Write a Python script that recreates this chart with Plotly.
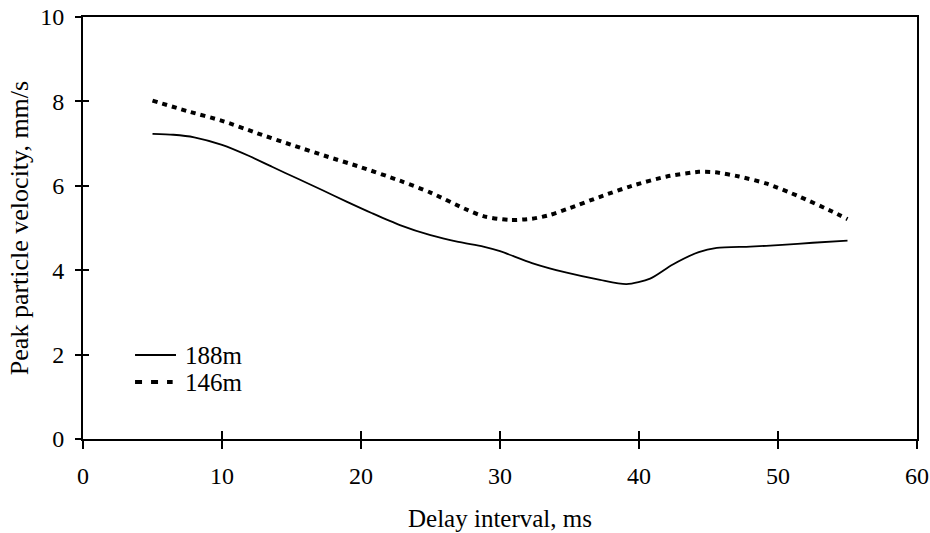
import plotly.graph_objects as go

# Data
x_188 = [5, 6.5, 8, 10, 12, 13.6, 15.5, 17.2, 19, 20.8, 22.8, 25, 27, 28.8, 30, 32.3, 34.8, 37.2, 39.1,
         40.8, 42.4, 44.3, 45.6, 48, 50.3, 52.5, 55]
y_188 = [7.23, 7.21, 7.15, 6.97, 6.7, 6.45, 6.16, 5.9, 5.62, 5.35, 5.07, 4.83, 4.67, 4.56, 4.45, 4.17, 3.94, 3.77, 3.67,
         3.8, 4.13, 4.43, 4.53, 4.56, 4.6, 4.65, 4.7]

x_146 = [5, 7.5, 10, 12.5, 15, 17.5, 20, 22.8, 25, 27.5, 28.8, 30.7, 32.3, 33.6, 35, 37.2, 39.5,
         42, 44.3, 45.5, 47.2, 49.2, 51.5, 53.9, 55]
y_146 = [8.02, 7.77, 7.54, 7.25, 6.97, 6.7, 6.44, 6.12, 5.84, 5.45, 5.28, 5.19, 5.22, 5.31, 5.47, 5.74, 6.0,
         6.22, 6.33, 6.32, 6.22, 6.05, 5.75, 5.39, 5.21]

series_names = ["188m", "146m"]
x_ticks = [0, 10, 20, 30, 40, 50, 60]
y_ticks = [0, 2, 4, 6, 8, 10]

FONT = "Liberation Serif, Times New Roman, serif"
SOLID = dict(color="black", width=1.8)
DOTTED = dict(color="black", width=4, dash="5px,5px")

fig = go.Figure()
fig.add_trace(go.Scatter(x=x_188, y=y_188, mode="lines", name=series_names[0],
                         line=dict(**SOLID, shape="spline", smoothing=0.7)))
fig.add_trace(go.Scatter(x=x_146, y=y_146, mode="lines", name=series_names[1],
                         line=dict(**DOTTED, shape="spline", smoothing=0.7)))
# helper trace so the overlay axes (inner half of the crossing ticks) are drawn
fig.add_trace(go.Scatter(x=[None], y=[None], xaxis="x2", yaxis="y2", mode="lines",
                         showlegend=False, hoverinfo="skip"))

# legend drawn as keys + labels inside the plot area (paper coordinates)
legend_rows = [(0.199, SOLID, 0.1115), (0.135, dict(color="black", width=4, dash="7px,9px"), 0.1075)]
for name, (yy, ln, xend) in zip(series_names, legend_rows):
    fig.add_shape(type="line", xref="paper", yref="paper", x0=0.0624, x1=xend, y0=yy, y1=yy,
                  line=ln)
    fig.add_annotation(xref="paper", yref="paper", x=0.1199, y=yy, text=name, showarrow=False,
                       xanchor="left", yanchor="middle", font=dict(family=FONT, size=25))

tick_common = dict(showgrid=False, zeroline=False, tickcolor="black", tickwidth=2, automargin=False)

fig.update_layout(
    width=930, height=533,
    margin=dict(l=83, r=13, t=17, b=94),
    plot_bgcolor="white", paper_bgcolor="white",
    font=dict(family=FONT, size=24, color="black"),
    showlegend=False,
    xaxis=dict(range=[0, 60], tickvals=x_ticks, ticks="outside", ticklen=8,
               showline=True, linecolor="black", linewidth=2, mirror=True,
               ticklabelstandoff=6,
               title=dict(text="Delay interval, ms", standoff=22, font=dict(size=25)),
               **tick_common),
    yaxis=dict(range=[0, 10], tickvals=y_ticks, ticks="outside", ticklen=6,
               showline=True, linecolor="black", linewidth=2, mirror=True,
               ticklabelstandoff=6,
               title=dict(text="Peak particle velocity, mm/s", standoff=4, font=dict(size=26)),
               **tick_common),
    xaxis2=dict(range=[0, 60], tickvals=x_ticks, ticks="inside", ticklen=8,
                overlaying="x", anchor="y2", side="bottom", showticklabels=False,
                showline=False, **tick_common),
    yaxis2=dict(range=[0, 10], tickvals=y_ticks, ticks="inside", ticklen=6,
                overlaying="y", anchor="x2", side="left", showticklabels=False,
                showline=False, **tick_common),
)

fig.write_html("out.html")
